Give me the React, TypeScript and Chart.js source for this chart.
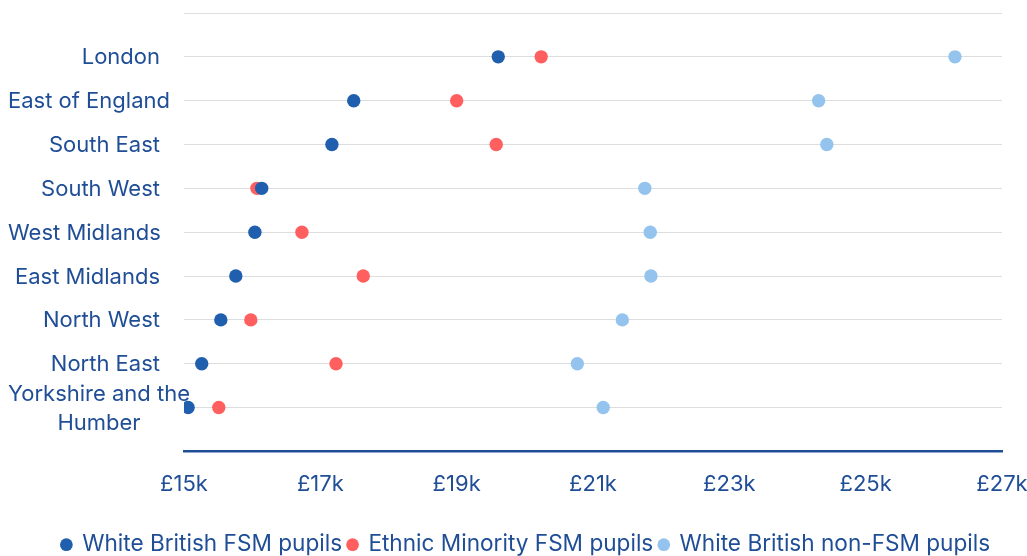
import React, { useEffect, useRef } from "react";
import { Chart, registerables } from "chart.js";

Chart.register(...registerables);

const regions: (string | string[])[] = [
  "London",
  "East of England",
  "South East",
  "South West",
  "West Midlands",
  "East Midlands",
  "North West",
  "North East",
  ["Yorkshire and the", "Humber"],
];

// Values in £k
const whiteBritishFsm = [19.61, 17.49, 17.17, 16.14, 16.04, 15.76, 15.54, 15.26, 15.06];
const ethnicMinorityFsm = [20.24, 19.0, 19.58, 16.07, 16.73, 17.63, 15.98, 17.23, 15.51];
const whiteBritishNonFsm = [26.31, 24.31, 24.43, 21.76, 21.84, 21.85, 21.43, 20.77, 21.15];

const seriesNames = ["White British FSM pupils", "Ethnic Minority FSM pupils", "White British non-FSM pupils"];
const seriesColors = ["#1F5FAD", "#FF5F5F", "#94C4EE"];

const xMin = 15;
const xMax = 27;
const xStep = 2;

const textColor = "#1F4E97";
const fontFamily = "Inter, 'Noto Sans', sans-serif";
const labelFontSize = 22;
const labelLineHeight = 29;

// Category labels: right-aligned against the plot, but never pushed past the
// left edge of the canvas; wrapped labels are centred line by line.
const regionLabelsPlugin = {
  id: "regionLabels",
  afterDraw(chart: any) {
    const yScale = chart.scales.y;
    const ctx = chart.ctx as CanvasRenderingContext2D;
    const rightEdge = yScale.right - 24;
    const leftLimit = 8;
    ctx.save();
    ctx.font = `${labelFontSize}px ${fontFamily}`;
    ctx.fillStyle = textColor;
    ctx.textAlign = "center";
    ctx.textBaseline = "middle";
    regions.forEach((label, i) => {
      const lines = Array.isArray(label) ? label : [label];
      const w = Math.max(...lines.map((l) => ctx.measureText(l).width));
      const left = Math.max(leftLimit, rightEdge - w);
      const cx = left + w / 2;
      const cy = yScale.getPixelForValue(i + 1) + 1;
      lines.forEach((line, j) => {
        ctx.fillText(line, cx, cy + (j - (lines.length - 1) / 2) * labelLineHeight);
      });
    });
    ctx.restore();
  },
};

export default function App() {
  const canvasRef = useRef<HTMLCanvasElement | null>(null);

  useEffect(() => {
    if (!canvasRef.current) return;
    const toPoints = (vals: number[]) => vals.map((v, i) => ({ x: v, y: i + 1 }));
    const chart = new Chart(canvasRef.current, {
      type: "scatter",
      data: {
        datasets: [whiteBritishFsm, ethnicMinorityFsm, whiteBritishNonFsm].map((vals, i) => ({
          label: seriesNames[i],
          data: toPoints(vals),
          backgroundColor: seriesColors[i],
          borderColor: seriesColors[i],
          pointRadius: 6.7,
          pointBorderWidth: 0,
        })),
      },
      options: {
        animation: false,
        responsive: true,
        maintainAspectRatio: false,
        layout: { padding: { top: 13, right: 25, bottom: -10, left: 50 } },
        scales: {
          x: {
            type: "linear",
            min: xMin,
            max: xMax,
            afterFit: (scale: any) => {
              scale.height = 76;
              scale.paddingLeft = 0;
              scale.paddingRight = 0;
            },
            ticks: {
              stepSize: xStep,
              color: textColor,
              font: { family: fontFamily, size: 22 },
              padding: 20,
              maxRotation: 0,
              callback: (v) => `£${v}k`,
            },
            grid: { display: false, drawTicks: false },
            border: { display: true, color: "#1F4E97", width: 2.5 },
          },
          y: {
            type: "linear",
            reverse: true,
            min: 0,
            max: 10,
            afterFit: (scale: any) => {
              scale.width = 134;
              scale.paddingTop = 0;
              scale.paddingBottom = 0;
            },
            ticks: { stepSize: 1, autoSkip: false, display: false },
            grid: { color: "#DDDDDD", lineWidth: 1, drawTicks: false },
            border: { display: false },
          },
        },
        plugins: {
          legend: {
            position: "bottom",
            labels: {
              usePointStyle: true,
              pointStyle: "circle",
              boxWidth: 9,
              boxHeight: 9,
              padding: 6,
              color: textColor,
              font: { family: fontFamily, size: 22.6 },
            },
          },
          tooltip: { enabled: false },
        },
      },
      plugins: [regionLabelsPlugin],
    });
    return () => chart.destroy();
  }, []);

  return (
    <div style={{ position: "absolute", left: 0, top: 0, width: 1027, height: 556, background: "#fff" }}>
      <canvas ref={canvasRef} />
    </div>
  );
}
